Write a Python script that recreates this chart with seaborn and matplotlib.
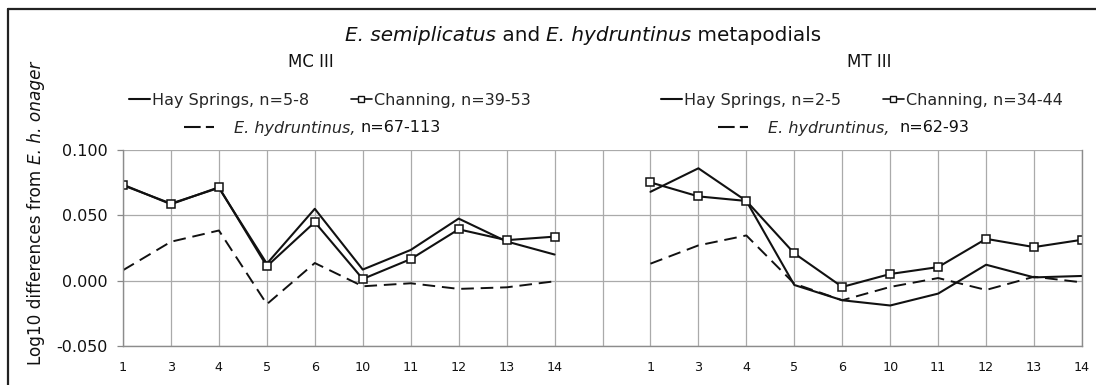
import matplotlib
matplotlib.use("Agg")
import matplotlib.pyplot as plt
from matplotlib.lines import Line2D
import numpy as np
import pandas as pd
import seaborn as sns

# Metapodial measurement indices (x categories)
categories = ["1", "3", "4", "5", "6", "10", "11", "12", "13", "14"]

# MC III: log10 differences from E. h. onager
mc_hay = [0.073, 0.059, 0.071, 0.013, 0.055, 0.0085, 0.0235, 0.0475, 0.030, 0.020]
mc_chan = [0.0735, 0.0585, 0.0715, 0.011, 0.0448, 0.0013, 0.0165, 0.0393, 0.031, 0.0337]
mc_hyd = [0.008, 0.0298, 0.0384, -0.018, 0.0135, -0.0043, -0.002, -0.0063, -0.0051, -0.0005]

# MT III: log10 differences from E. h. onager
mt_hay = [0.068, 0.086, 0.061, -0.0033, -0.015, -0.019, -0.0099, 0.0122, 0.0025, 0.0036]
mt_chan = [0.0752, 0.0645, 0.061, 0.0209, -0.0048, 0.0051, 0.0104, 0.032, 0.0257, 0.0313]
mt_hyd = [0.013, 0.027, 0.0346, -0.0023, -0.015, -0.0048, 0.002, -0.0071, 0.003, -0.0013]

y_ticks = [-0.050, 0.000, 0.050, 0.100]

sns.set_theme(style="white")
plt.rcParams["font.family"] = ["DejaVu Sans"]

W, H = 1096, 385
fig = plt.figure(figsize=(W / 100, H / 100), dpi=100)
fig.patch.set_facecolor("white")
ax = fig.add_axes([123 / W, 1 - 346 / H, (1082 - 123) / W, (346 - 150) / H])
renderer = fig.canvas.get_renderer()
ink = "#111111"

n = len(categories)
left_pos = np.arange(n)
right_pos = np.arange(n) + n + 1

rows = []
for panel, pos, series in [
    ("MC III", left_pos, {"hay": mc_hay, "chan": mc_chan, "hyd": mc_hyd}),
    ("MT III", right_pos, {"hay": mt_hay, "chan": mt_chan, "hyd": mt_hyd}),
]:
    for name, vals in series.items():
        for p, c, v in zip(pos, categories, vals):
            rows.append({"panel": panel, "series": name, "pos": p, "cat": c, "value": v})
df = pd.DataFrame(rows)

for panel in ["MC III", "MT III"]:
    d = df[df.panel == panel]
    sns.lineplot(data=d[d.series == "hyd"], x="pos", y="value", ax=ax, color=ink,
                 lw=1.4, legend=False, estimator=None, sort=False)
    ax.lines[-1].set_dashes([6.5, 3.5])
    sns.lineplot(data=d[d.series == "hay"], x="pos", y="value", ax=ax, color=ink,
                 lw=1.5, legend=False, estimator=None, sort=False)
    sns.lineplot(data=d[d.series == "chan"], x="pos", y="value", ax=ax, color=ink,
                 lw=1.5, marker="s", markersize=5.5, markerfacecolor="white",
                 markeredgecolor=ink, markeredgewidth=1.1,
                 legend=False, estimator=None, sort=False)

# axes, grid and ticks (one blank slot separates the two panels)
all_pos = list(left_pos) + [n] + list(right_pos)
all_labels = categories + [""] + categories
ax.set_xlim(0, 2 * n)
ax.set_ylim(-0.05, 0.1)
ax.set_xticks(all_pos)
ax.set_xticklabels(all_labels, fontsize=9.2, color=ink)
ax.set_yticks(y_ticks)
ax.set_yticklabels([f"{t:.3f}" for t in y_ticks], fontsize=11.5, color=ink)
ax.tick_params(axis="x", length=0, pad=11)
ax.tick_params(axis="y", length=4, width=0.9, color="#888888", pad=7, left=True)
ax.grid(True, color="#aaaaaa", lw=0.9)
ax.set_axisbelow(True)
ax.set_xlabel("")
ax.set_ylabel("")
for side in ["left", "bottom", "right"]:
    ax.spines[side].set_visible(True)
    ax.spines[side].set_color("#8c8c8c")
    ax.spines[side].set_linewidth(1.0)
ax.spines["top"].set_visible(False)


def advance(s, size, style="normal"):
    """Horizontal advance of a string in pixels (spaces included)."""
    def w(txt):
        t = fig.text(0, 0, txt, fontsize=size, fontstyle=style)
        width = t.get_window_extent(renderer).width
        t.remove()
        return width
    return w("X" + s + "X") - w("XX")


def rich_text(cx, cy, parts, size, rotation=0):
    """Draw runs of regular/italic text centred on cx (pixels, from the left/bottom);
    cy is the baseline (from the top for horizontal text, the x pixel for rotated text)."""
    adv = [advance(s, size, st) for s, st in parts]
    start = -sum(adv) / 2
    for (s, st), a in zip(parts, adv):
        if rotation == 90:
            pos = (cy / W, (cx + start) / H)
        else:
            pos = ((cx + start) / W, 1 - cy / H)
        fig.text(*pos, s, fontsize=size, fontstyle=st, rotation=rotation,
                 rotation_mode="anchor", ha="left", va="baseline", color=ink)
        start += a


# y label, reading bottom to top
rich_text(H - 213, 41, [("Log10 differences from ", "normal"), ("E. h. onager", "italic")],
          12.2, rotation=90)

# titles
rich_text(583, 41, [("E. semiplicatus", "italic"), (" and ", "normal"),
                    ("E. hydruntinus", "italic"), (" metapodials", "normal")], 14.4)
fig.text(311 / W, 1 - 67 / H, "MC III", ha="center", va="baseline", fontsize=12, color=ink)
fig.text(869 / W, 1 - 67 / H, "MT III", ha="center", va="baseline", fontsize=12, color=ink)

# legends
h_hay = Line2D([], [], color=ink, lw=1.5)
h_chan = Line2D([], [], color=ink, lw=1.2, marker="s", markersize=5,
                markerfacecolor="white", markeredgecolor=ink, markeredgewidth=1.0)
h_hyd = Line2D([], [], color=ink, lw=1.5, dashes=[8, 2.5])

legend_kw = dict(frameon=False, borderpad=0, borderaxespad=0, handleheight=0.7)
for cx, label_hay, label_chan in [(330, "Hay Springs, n=5-8", "Channing, n=39-53"),
                                  (862, "Hay Springs, n=2-5", "Channing, n=34-44")]:
    fig.legend([h_hay, h_chan], [label_hay, label_chan], ncol=2, loc="center",
               bbox_to_anchor=(cx / W, 1 - 100 / H), handlelength=1.3,
               handletextpad=0.15, columnspacing=2.6, fontsize=11.5, **legend_kw)

# dashed-line entry: italic taxon name in the legend, sample size in regular type after it
for x0, label, gap, suffix in [(184, "E. hydruntinus,", " ", "n=67-113"),
                               (718, "E. hydruntinus,", "  ", "n=62-93")]:
    leg = fig.legend([h_hyd], [label], loc="center left",
                     bbox_to_anchor=(x0 / W, 1 - 128 / H), handlelength=1.9,
                     handletextpad=1.2, prop={"size": 11.5, "style": "italic"},
                     **legend_kw)
    fig.canvas.draw()
    lt = leg.get_texts()[0]
    tb = lt.get_window_extent(renderer)
    base_y = lt.get_transform().transform(lt.get_position())[1]
    fig.text((tb.x1 + advance(gap, 11.5)) / W, base_y / H, suffix, fontsize=11.5,
             color=ink, ha="left", va="baseline")

# outer frame (top and left edges)
fig.add_artist(Line2D([8 / W, 8 / W], [0, 1 - 8.5 / H], transform=fig.transFigure,
                      color="#222222", lw=1.6))
fig.add_artist(Line2D([8 / W, 1], [1 - 8.5 / H, 1 - 8.5 / H], transform=fig.transFigure,
                      color="#222222", lw=1.6))

fig.savefig("out.png", dpi=100)
